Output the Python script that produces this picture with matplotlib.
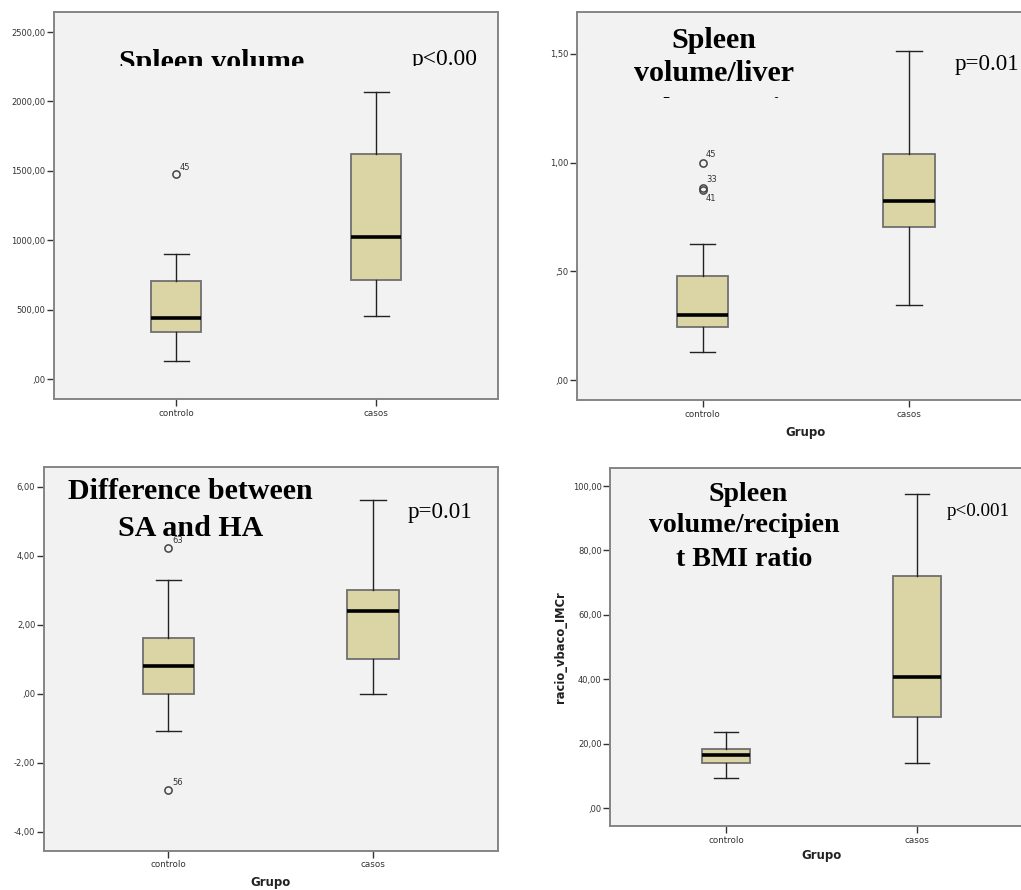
import matplotlib
matplotlib.use("Agg")
import matplotlib.pyplot as plt
from matplotlib.patches import Rectangle

# ---------------- data ----------------
groups = ["controlo", "casos"]

# five-number summaries: [whislo, q1, med, q3, whishi]
vol_ctrl = [134, 343, 441, 708, 904]
vol_cas = [456, 715, 1024, 1620, 2068]
vol_fliers = [1476]
vol_flier_ids = ["45"]

ratio_ctrl = [0.129, 0.245, 0.300, 0.478, 0.628]
ratio_cas = [0.344, 0.706, 0.824, 1.041, 1.511]
ratio_fliers = [1.000, 0.882, 0.875]
ratio_flier_ids = ["45", "33", "41"]

diff_ctrl = [-1.09, 0.00, 0.81, 1.60, 3.30]
diff_cas = [0.00, 1.00, 2.41, 3.00, 5.60]
diff_fliers = [4.21, -2.79]
diff_flier_ids = ["63", "56"]

bmi_ctrl = [9.5, 13.9, 16.5, 18.3, 23.7]
bmi_cas = [14.0, 28.2, 40.6, 72.0, 97.6]

yticks_vol = [0, 500, 1000, 1500, 2000, 2500]
yticks_ratio = [0.0, 0.5, 1.0, 1.5]
yticks_diff = [-4, -2, 0, 2, 4, 6]
yticks_bmi = [0, 20, 40, 60, 80, 100]

# ---------------- style ----------------
W, H = 1021, 890
BG = "#f2f2f2"
BOXFILL = "#dbd5a6"
FRAME = "#858585"
TICKC = "#333333"
SERIF = "Liberation Serif"

fig = plt.figure(figsize=(W / 100, H / 100), dpi=100)
fig.patch.set_facecolor("white")


def axes_px(left, top, right, bottom):
    return fig.add_axes([left / W, 1 - bottom / H, (right - left) / W, (bottom - top) / H])


def fmt(v):
    s = f"{v:.2f}".replace(".", ",")
    if s.startswith("0,"):
        s = s[1:]
    return s


def stats(q, fl):
    return dict(whislo=q[0], q1=q[1], med=q[2], q3=q[3], whishi=q[4], fliers=fl)


def draw_panel(ax, ctrl, cas, fliers, ylim, yticks, xlabel_pad=None, ylabel=None):
    ax.set_facecolor(BG)
    st = [stats(ctrl, fliers), stats(cas, [])]
    ax.bxp(st, positions=[0, 1], widths=0.25, patch_artist=True, capwidths=0.125,
           boxprops=dict(facecolor=BOXFILL, edgecolor="#707070", linewidth=1.3),
           medianprops=dict(color="black", linewidth=2.6),
           whiskerprops=dict(color="#222222", linewidth=1.0),
           capprops=dict(color="#222222", linewidth=1.0),
           flierprops=dict(marker="o", markerfacecolor="none", markeredgecolor="#444444",
                           markersize=5.2, markeredgewidth=1.1))
    ax.set_xlim(-0.61, 1.61)
    ax.set_ylim(*ylim)
    ax.set_yticks(yticks)
    ax.set_yticklabels([fmt(v) for v in yticks])
    ax.set_xticks([0, 1])
    ax.set_xticklabels(groups)
    ax.tick_params(axis="y", length=5, width=1, color=TICKC, labelsize=6, labelcolor=TICKC, pad=1)
    ax.tick_params(axis="x", length=5, width=1, color=TICKC, labelsize=6.3, labelcolor=TICKC, pad=2)
    for sp in ax.spines.values():
        sp.set_color(FRAME)
        sp.set_linewidth(1.4)
    if xlabel_pad is not None:
        ax.set_xlabel("Grupo", fontsize=8.5, fontweight="bold", color="#222222",
                      labelpad=xlabel_pad)
    if ylabel:
        ax.set_ylabel(ylabel, fontsize=8.3, fontweight="bold", color="#222222", labelpad=4)


def label_fliers(ax, vals, ids, offsets):
    for v, s, (dx, dy, va) in zip(vals, ids, offsets):
        ax.annotate(s, (0, v), xytext=(dx, dy), textcoords="offset pixels",
                    fontsize=6, color="#333333", ha="left", va=va, zorder=1)


def ftext(x, y, s, clip_y=None, **kw):
    t = fig.text(x / W, 1 - y / H, s, **kw)
    if clip_y is not None:
        r = Rectangle((0, 1 - clip_y / H), 1, clip_y / H, transform=fig.transFigure)
        t.set_clip_path(r)
    return t


# ---------------- panel 1 ----------------
ax1 = axes_px(54, 12.3, 498, 399)
draw_panel(ax1, vol_ctrl, vol_cas, vol_fliers, (-142, 2642), yticks_vol)
label_fliers(ax1, vol_fliers, vol_flier_ids, [(4, 4, "baseline")])
ftext(211.7, 70.4, "Spleen volume", clip_y=66, family=SERIF, fontweight="bold",
      fontsize=21.5, ha="center", va="baseline")
ftext(412, 65, "p<0.00", clip_y=66, family=SERIF, fontsize=16.9, ha="left", va="baseline")

# ---------------- panel 2 ----------------
ax2 = axes_px(576.7, 12.3, 1034.7, 400)
draw_panel(ax2, ratio_ctrl, ratio_cas, ratio_fliers, (-0.09, 1.69), yticks_ratio,
           xlabel_pad=5)
label_fliers(ax2, ratio_fliers, ratio_flier_ids,
             [(3.5, 5.5, "baseline"), (3.5, 6.5, "baseline"), (3.5, -4.5, "top")])
ftext(714, 48.3, "Spleen", family=SERIF, fontweight="bold", fontsize=21.6,
      ha="center", va="baseline")
ftext(714, 80.7, "volume/liver", family=SERIF, fontweight="bold", fontsize=21.6,
      ha="center", va="baseline")
ftext(714, 117.6, "volume ratio", clip_y=97.6, family=SERIF, fontweight="bold",
      fontsize=21.6, ha="center", va="baseline")
ftext(955, 70, "p=0.01", family=SERIF, fontsize=16.6, ha="left", va="baseline")

# ---------------- panel 3 ----------------
ax3 = axes_px(43.7, 467.3, 497.7, 850.7)
draw_panel(ax3, diff_ctrl, diff_cas, diff_fliers, (-4.55, 6.56), yticks_diff,
           xlabel_pad=5)
label_fliers(ax3, diff_fliers, diff_flier_ids, [(3.5, 5, "baseline"), (3.5, 5, "baseline")])
ftext(190.5, 499.3, "Difference between", family=SERIF, fontweight="bold", fontsize=21.6,
      ha="center", va="baseline", zorder=5)
ftext(190.3, 536, "SA and HA", family=SERIF, fontweight="bold", fontsize=21.6,
      ha="center", va="baseline", zorder=5)
ftext(407.3, 518.3, "p=0.01", family=SERIF, fontsize=16.6, ha="left", va="baseline")

# ---------------- panel 4 ----------------
ax4 = axes_px(610, 468, 1033.4, 826)
draw_panel(ax4, bmi_ctrl, bmi_cas, [], (-5.5, 105.6), yticks_bmi, xlabel_pad=3,
           ylabel="racio_vbaco_IMCr")
ftext(747.8, 501, "Spleen", family=SERIF, fontweight="bold", fontsize=20.1,
      ha="center", va="baseline")
ftext(744.7, 531.7, "volume/recipien", family=SERIF, fontweight="bold", fontsize=20.1,
      ha="center", va="baseline")
ftext(744.3, 565.7, "t BMI ratio", family=SERIF, fontweight="bold", fontsize=20.1,
      ha="center", va="baseline")
ftext(946.7, 516, "p<0.001", family=SERIF, fontsize=13.8, ha="left", va="baseline")

fig.savefig("out.png", dpi=100, facecolor="white")
